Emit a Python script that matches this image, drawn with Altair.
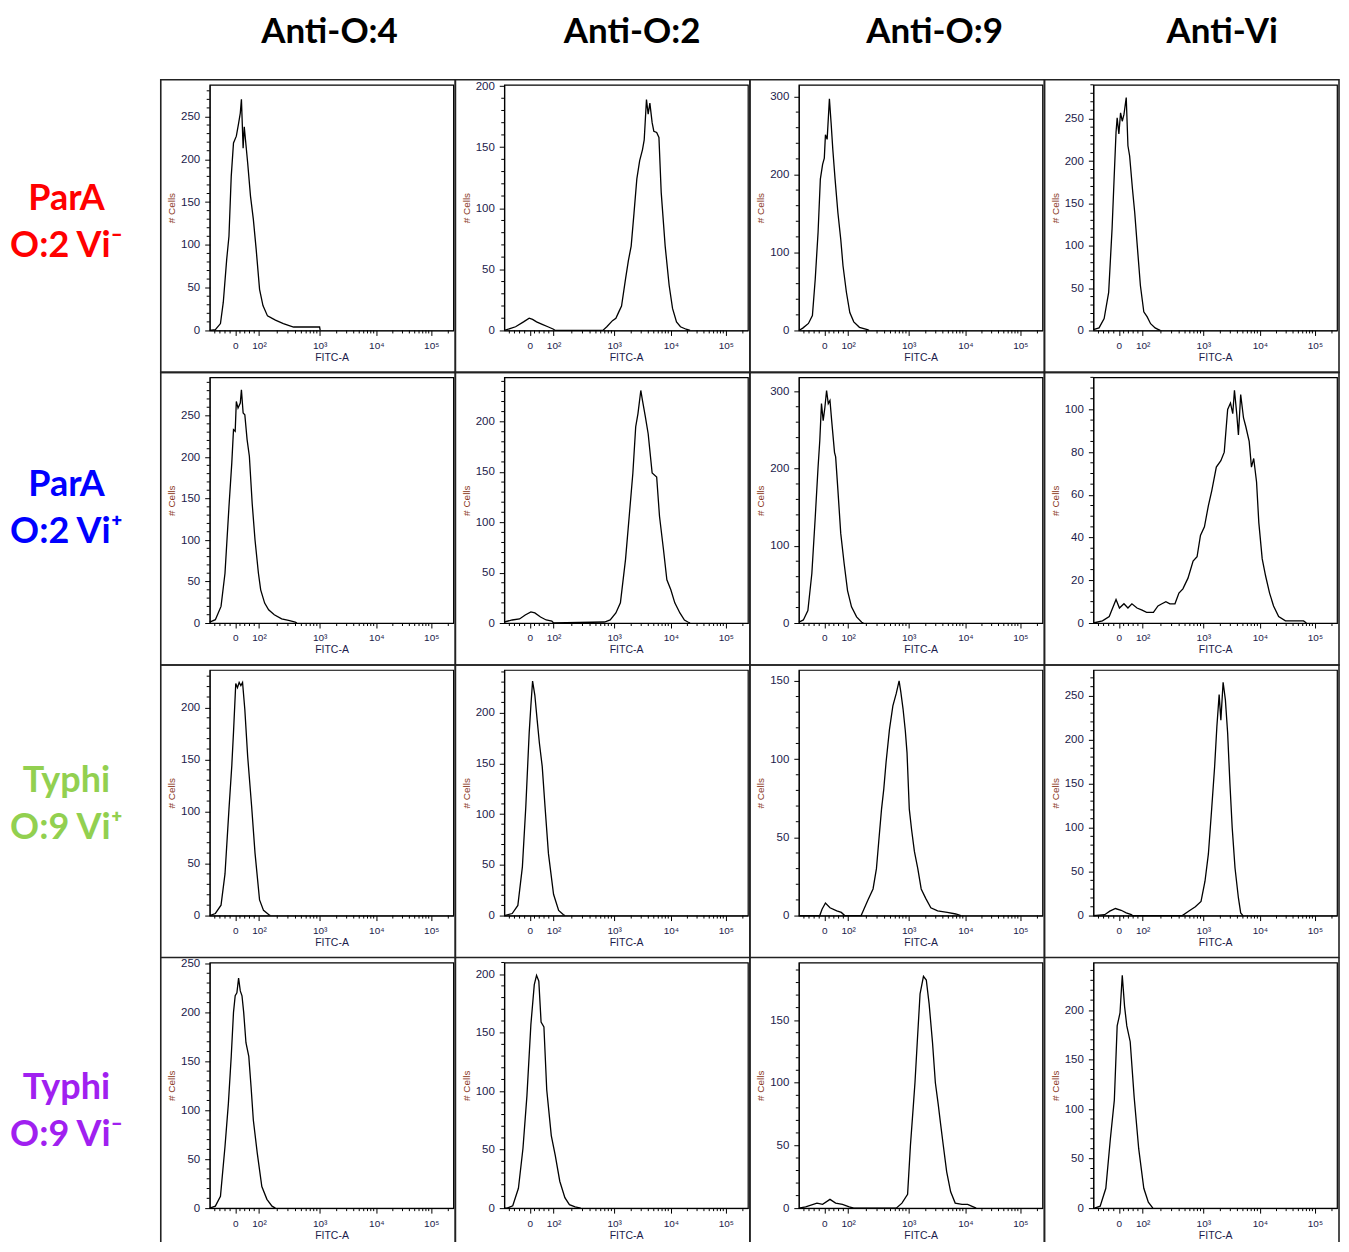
import math
import altair as alt
import pandas as pd

# ---------------- data ----------------
COL_TITLES = ["Anti-O:4", "Anti-O:2", "Anti-O:9", "Anti-Vi"]
ROW_LINES = [["ParA", "O:2 Vi⁻"], ["ParA", "O:2 Vi⁺"], ["Typhi", "O:9 Vi⁺"], ["Typhi", "O:9 Vi⁻"]]
ROW_COLORS = ["#FF0000", "#0000FF", "#92D050", "#A020F0"]

# x axis is the cytometer's biexponential display; values are display positions
X_TICK_VALUES = [1.51, 1.93, 3.0, 4.0, 4.97]
X_TICK_LABELS = ["0", "10²", "10³", "10⁴", "10⁵"]
X_DOMAIN = [1.06, 5.36]

Y_MAX = [[287, 201, 315, 290], [296, 244, 318, 115], [236, 242, 157, 279], [251, 210, 196, 248]]
Y_STEP = [[50, 50, 100, 50], [50, 50, 100, 20], [50, 50, 50, 50], [50, 50, 50, 50]]
Y_MINOR = [[10, 10, 20, 10], [10, 10, 20, 5], [10, 10, 10, 10], [10, 10, 10, 10]]

# (display position, # cells)
R1C1 = [(1.06, 0), (1.16, 1), (1.25, 8), (1.30, 33), (1.36, 83), (1.40, 110), (1.44, 180), (1.48, 219),
        (1.53, 227), (1.57, 242), (1.60, 254), (1.62, 270), (1.65, 213), (1.67, 238), (1.73, 196),
        (1.78, 157), (1.83, 130), (1.88, 95), (1.94, 48), (2.00, 29), (2.08, 17), (2.22, 12), (2.36, 8),
        (2.45, 6), (2.54, 4), (3.00, 4), (3.01, 0)]
R1C2 = [(1.06, 0), (1.26, 3), (1.40, 7), (1.50, 10), (1.56, 9), (1.63, 7), (1.73, 5), (1.83, 3), (1.93, 1),
        (1.96, 0), (2.80, 0), (2.87, 3), (2.97, 8), (3.03, 10), (3.08, 15), (3.13, 20), (3.20, 42), (3.25, 57),
        (3.30, 69), (3.35, 96), (3.40, 124), (3.45, 139), (3.50, 148), (3.53, 156), (3.57, 189), (3.60, 177),
        (3.63, 186), (3.67, 170), (3.70, 163), (3.75, 162), (3.79, 158), (3.83, 113), (3.90, 69), (3.97, 37),
        (4.03, 18), (4.10, 7), (4.17, 3), (4.27, 1), (4.34, 0)]
R1C3 = [(1.06, 0), (1.13, 3), (1.23, 9), (1.30, 19), (1.35, 66), (1.40, 126), (1.44, 194), (1.48, 213),
        (1.51, 221), (1.53, 251), (1.56, 245), (1.60, 297), (1.63, 266), (1.66, 232), (1.70, 194), (1.75, 151),
        (1.80, 117), (1.84, 83), (1.90, 49), (1.96, 23), (2.03, 11), (2.13, 4), (2.27, 1), (2.30, 0)]
R1C4 = [(1.06, 1), (1.16, 3), (1.25, 14), (1.33, 45), (1.39, 120), (1.43, 186), (1.46, 234), (1.48, 251),
        (1.51, 232), (1.54, 257), (1.57, 247), (1.60, 255), (1.64, 275), (1.67, 218), (1.70, 206), (1.75, 167),
        (1.79, 139), (1.83, 104), (1.89, 53), (1.95, 22), (2.01, 16), (2.07, 8), (2.15, 3), (2.21, 1), (2.24, 0)]
R2C1 = [(1.06, 1), (1.16, 4), (1.26, 20), (1.33, 60), (1.40, 140), (1.45, 193), (1.48, 233), (1.51, 231),
        (1.53, 267), (1.56, 259), (1.60, 265), (1.62, 281), (1.65, 253), (1.68, 251), (1.72, 221), (1.76, 201),
        (1.81, 144), (1.86, 100), (1.92, 60), (1.96, 40), (2.03, 24), (2.10, 16), (2.20, 10), (2.33, 5),
        (2.47, 3), (2.57, 1), (2.60, 0)]
R2C2 = [(1.06, 1), (1.20, 3), (1.33, 4), (1.43, 8), (1.53, 11), (1.60, 10), (1.70, 6), (1.80, 3), (1.90, 2),
        (1.93, 0), (2.83, 1), (2.93, 3), (3.03, 10), (3.11, 20), (3.20, 63), (3.27, 109), (3.33, 149),
        (3.38, 195), (3.42, 208), (3.47, 231), (3.50, 221), (3.55, 205), (3.60, 188), (3.67, 149), (3.75, 145),
        (3.80, 106), (3.87, 73), (3.93, 43), (4.00, 33), (4.07, 20), (4.16, 10), (4.24, 3), (4.30, 1), (4.34, 0)]
R2C3 = [(1.06, 1), (1.14, 4), (1.22, 16), (1.29, 64), (1.35, 137), (1.40, 202), (1.43, 236), (1.46, 284),
        (1.49, 262), (1.52, 279), (1.55, 301), (1.58, 284), (1.61, 288), (1.64, 262), (1.69, 221), (1.71, 215),
        (1.75, 172), (1.80, 116), (1.86, 77), (1.92, 42), (1.99, 21), (2.08, 8), (2.17, 1), (2.20, 0)]
R2C4 = [(1.06, 0), (1.22, 1), (1.34, 3), (1.46, 11), (1.52, 7), (1.60, 9), (1.67, 7), (1.74, 9), (1.83, 7),
        (1.92, 6), (2.00, 5), (2.12, 5), (2.20, 8), (2.27, 9), (2.34, 10), (2.41, 9), (2.50, 9), (2.57, 14),
        (2.64, 16), (2.73, 21), (2.82, 29), (2.89, 31), (2.95, 41), (3.02, 45), (3.09, 55), (3.15, 62),
        (3.23, 73), (3.31, 76), (3.37, 80), (3.43, 100), (3.48, 103), (3.52, 98), (3.55, 109), (3.59, 98),
        (3.62, 88), (3.66, 107), (3.71, 96), (3.75, 92), (3.81, 85), (3.85, 73), (3.89, 77), (3.94, 66),
        (3.98, 47), (4.04, 30), (4.10, 22), (4.17, 14), (4.24, 8), (4.33, 3), (4.45, 1), (4.77, 1), (4.82, 0)]
R3C1 = [(1.06, 0), (1.16, 2), (1.26, 10), (1.33, 40), (1.40, 102), (1.45, 144), (1.48, 176), (1.52, 223),
        (1.55, 219), (1.58, 224), (1.61, 221), (1.64, 224), (1.68, 198), (1.73, 153), (1.80, 105), (1.86, 60),
        (1.94, 15), (2.01, 5), (2.10, 1), (2.13, 0)]
R3C2 = [(1.06, 0), (1.20, 2), (1.30, 10), (1.38, 48), (1.44, 107), (1.50, 180), (1.53, 207), (1.56, 231),
        (1.60, 217), (1.64, 193), (1.68, 170), (1.73, 147), (1.78, 107), (1.84, 61), (1.93, 21), (2.02, 5),
        (2.10, 1), (2.13, 0)]
R3C3 = [(1.06, 0), (1.43, 0), (1.47, 4), (1.53, 8), (1.61, 5), (1.73, 3), (1.81, 2), (1.87, 0), (2.16, 0),
        (2.22, 5), (2.28, 10), (2.37, 17), (2.43, 30), (2.47, 47), (2.52, 68), (2.56, 81), (2.60, 98),
        (2.66, 119), (2.72, 134), (2.78, 142), (2.83, 150), (2.86, 143), (2.90, 132), (2.94, 118), (2.97, 104),
        (3.01, 68), (3.05, 55), (3.10, 41), (3.16, 30), (3.22, 17), (3.30, 11), (3.39, 5), (3.51, 3),
        (3.68, 2), (3.83, 1), (3.92, 0)]
R3C4 = [(1.06, 0), (1.26, 1), (1.35, 5), (1.45, 8), (1.55, 6), (1.64, 3), (1.73, 1), (1.75, 0), (2.63, 0),
        (2.74, 5), (2.86, 10), (2.96, 16), (3.03, 39), (3.09, 70), (3.15, 123), (3.20, 169), (3.24, 215),
        (3.28, 251), (3.31, 222), (3.35, 265), (3.39, 245), (3.43, 207), (3.47, 150), (3.51, 100), (3.56, 54),
        (3.62, 20), (3.66, 3), (3.70, 0)]
R4C1 = [(1.06, 0), (1.16, 2), (1.25, 12), (1.33, 63), (1.39, 107), (1.44, 155), (1.48, 200), (1.51, 217),
        (1.54, 220), (1.57, 235), (1.60, 222), (1.63, 217), (1.66, 200), (1.70, 169), (1.75, 155), (1.79, 124),
        (1.83, 90), (1.90, 56), (1.98, 22), (2.07, 9), (2.16, 2), (2.22, 0)]
R4C2 = [(1.06, 0), (1.11, 0), (1.21, 2), (1.31, 17), (1.39, 51), (1.46, 96), (1.53, 157), (1.59, 191),
        (1.63, 199), (1.67, 194), (1.71, 159), (1.76, 155), (1.81, 101), (1.89, 62), (1.96, 45), (2.04, 23),
        (2.13, 9), (2.21, 3), (2.31, 1), (2.41, 0)]
R4C3 = [(1.06, 0), (1.18, 1), (1.38, 4), (1.48, 3), (1.61, 7), (1.71, 4), (1.83, 3), (1.95, 1), (2.03, 0),
        (2.78, 0), (2.88, 4), (2.98, 11), (3.03, 50), (3.08, 81), (3.11, 100), (3.15, 132), (3.20, 171),
        (3.26, 185), (3.31, 182), (3.36, 163), (3.42, 132), (3.47, 100), (3.52, 83), (3.56, 68), (3.61, 50),
        (3.67, 29), (3.74, 13), (3.82, 4), (3.94, 3), (4.04, 3), (4.14, 1), (4.19, 0)]
R4C4 = [(1.08, 0), (1.18, 2), (1.28, 20), (1.36, 70), (1.43, 109), (1.48, 184), (1.53, 197), (1.57, 235),
        (1.61, 204), (1.65, 184), (1.71, 168), (1.78, 112), (1.86, 60), (1.95, 20), (2.03, 6), (2.11, 0)]

CURVES = [[R1C1, R1C2, R1C3, R1C4], [R2C1, R2C2, R2C3, R2C4],
          [R3C1, R3C2, R3C3, R3C4], [R4C1, R4C2, R4C3, R4C4]]

# ---------------- styling / layout ----------------
VIEW_W, VIEW_H = 244, 246
GAP_X, GAP_Y = 51, 47
LABEL_W, HEADER_H = 149, 28
BORDER_L, BORDER_R, BORDER_T, BORDER_B = -49, VIEW_W + GAP_X - 49, -5, VIEW_H + GAP_Y - 5
LAST_ROW_BOTTOM = VIEW_H + 34
AXIS_FONT = "Liberation Sans"
TICK_LABEL_COLOR = "#1b1b4b"
YTITLE_COLOR = "#8b3a1e"
FRAME_COLOR = "#222222"
HEADER_DX = [-2, 6, 14, 7]
HEADER_DY = 8
HEADER_SIZE = 35
ROW_DY = [-9, -15, -12, 3]
ROW_DX = -18


def x_label_expr():
    parts = [f"datum.value == {v} ? '{t}' : " for v, t in zip(X_TICK_VALUES, X_TICK_LABELS)]
    return "".join(parts) + "''"


def x_minor_ticks():
    zero = X_TICK_VALUES[0]
    ticks = [zero - 0.09 * m for m in range(1, 5)]
    ticks += [zero + 0.084 * m for m in range(1, 5)]
    for lo, hi in zip(X_TICK_VALUES[1:-1], X_TICK_VALUES[2:]):
        ticks += [lo + (hi - lo) * math.log10(m) for m in range(2, 10)]
    ticks.append(X_TICK_VALUES[-1] + math.log10(2))
    return [t for t in ticks if X_DOMAIN[0] < t < X_DOMAIN[1]]


ONE = pd.DataFrame({"k": [0]})


def panel(r, c):
    curve = CURVES[r][c]
    ymax, step, minor = Y_MAX[r][c], Y_STEP[r][c], Y_MINOR[r][c]
    xs = alt.Scale(domain=X_DOMAIN, nice=False, zero=False)
    ys = alt.Scale(domain=[0, ymax], nice=False, zero=False)
    xaxis = alt.Axis(values=X_TICK_VALUES, labelExpr=x_label_expr(), title="FITC-A",
                     tickSize=5, tickColor="black", tickWidth=1, domainColor="black", domainWidth=1,
                     labelFont=AXIS_FONT, labelFontSize=10, labelColor=TICK_LABEL_COLOR, labelPadding=5,
                     labelOverlap=False, labelFlush=False, grid=False,
                     titleFont=AXIS_FONT, titleFontSize=10.5, titleFontWeight="normal",
                     titleColor=TICK_LABEL_COLOR, titlePadding=2)
    yaxis = alt.Axis(values=list(range(0, ymax + 1, step)), format="d", title="# Cells",
                     tickSize=5, tickColor="black", tickWidth=1, domainColor="black", domainWidth=1,
                     labelFont=AXIS_FONT, labelFontSize=11.5, labelColor=TICK_LABEL_COLOR, labelPadding=5,
                     labelOverlap=False, labelFlush=False, grid=False,
                     titleFont=AXIS_FONT, titleFontSize=10, titleFontWeight="normal",
                     titleColor=YTITLE_COLOR, titlePadding=4)
    X = alt.X("d:Q", scale=xs, axis=xaxis)
    Y = alt.Y("v:Q", scale=ys, axis=yaxis)

    line = alt.Chart(pd.DataFrame(curve, columns=["d", "v"])).mark_line(
        color="black", strokeWidth=1.3).encode(x=X, y=Y)
    xm = alt.Chart(pd.DataFrame({"d": x_minor_ticks()})).mark_rule(
        color="black", strokeWidth=1).encode(x=X, y=alt.value(VIEW_H), y2=alt.value(VIEW_H + 3))
    y_minor = [v for v in range(0, ymax + 1, minor) if v % step != 0]
    ym = alt.Chart(pd.DataFrame({"v": y_minor})).mark_rule(
        color="black", strokeWidth=1).encode(y=Y, x=alt.value(0), x2=alt.value(-3))

    if r < 3:
        frames = [alt.Chart(ONE).mark_rect(fillOpacity=0, stroke=FRAME_COLOR, strokeWidth=1.6).encode(
            x=alt.value(BORDER_L), x2=alt.value(BORDER_R), y=alt.value(BORDER_T), y2=alt.value(BORDER_B))]
    else:
        frames = [alt.Chart(ONE).mark_rule(color=FRAME_COLOR, strokeWidth=1.6).encode(
            x=alt.value(xv), y=alt.value(BORDER_T), y2=alt.value(LAST_ROW_BOTTOM))
            for xv in (BORDER_L, BORDER_R)]

    return alt.layer(*frames, line, xm, ym).properties(
        width=VIEW_W, height=VIEW_H,
        view=alt.ViewBackground(stroke="black", strokeWidth=1.2))


def text_chart(lines, color, w, h, dx, dy, size=36, line_height=None):
    kw = dict(text=lines, font="Lato", fontWeight="bold", fontSize=size, color=color,
              align="center", baseline="middle", dx=dx, dy=dy)
    if line_height:
        kw["lineHeight"] = line_height
    return alt.Chart(ONE).mark_text(**kw).properties(
        width=w, height=h, view=alt.ViewBackground(stroke="transparent"))


cells = [text_chart(" ", "black", LABEL_W, HEADER_H, 0, 0, size=10)]
cells += [text_chart(t, "black", VIEW_W, HEADER_H, HEADER_DX[i], HEADER_DY, size=HEADER_SIZE)
          for i, t in enumerate(COL_TITLES)]
for r in range(4):
    cells.append(text_chart(ROW_LINES[r], ROW_COLORS[r], LABEL_W, VIEW_H, ROW_DX, ROW_DY[r], line_height=47))
    cells += [panel(r, c) for c in range(4)]

chart = alt.concat(
    *cells, columns=5, spacing=alt.RowColnumber(row=GAP_Y, column=GAP_X),
    bounds="flush", align="each"
).properties(padding=0, background="white").configure_view(stroke="transparent")

chart.save("out.html", embed_options={"renderer": "svg", "actions": False})
